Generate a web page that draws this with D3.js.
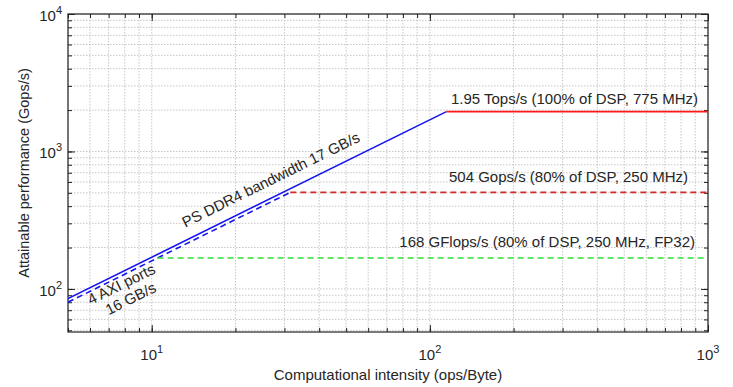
<!DOCTYPE html>
<html><head><meta charset="utf-8">
<script src="https://cdn.jsdelivr.net/npm/d3@7"></script>
<style>body{margin:0;background:#fff}text{font-family:"Liberation Sans",Arial,sans-serif;fill:#262626}</style>
</head><body><svg id="c" width="733" height="387"></svg>
<script>
const xDomain = [5, 1000];
const yDomain = [48.6, 10000];
const xTicks = [10, 100, 1000];
const yTicks = [100, 1000, 10000];
const bandwidths = [
  {name: "PS DDR4 bandwidth 17 GB/s", gbs: 17, dash: null},
  {name: "4 AXI ports 16 GB/s", gbs: 16, dash: "6,4"}
];
const peaks = [
  {label: "1.95 Tops/s (100% of DSP, 775 MHz)", value: 1950, bw: 17, color: "#ff1a1a", dash: null},
  {label: "504 Gops/s (80% of DSP, 250 MHz)", value: 504, bw: 16, color: "#d42a2a", dash: "6,4"},
  {label: "168 GFlops/s (80% of DSP, 250 MHz, FP32)", value: 168, bw: 16, color: "#33dd33", dash: "6,4"}
];

const svg = d3.select("#c");
const m = {l: 68, r: 25, t: 14, b: 55};
const W = 733, H = 387;
const FS = 15;
const x = d3.scaleLog().domain(xDomain).range([m.l, W - m.r]);
const y = d3.scaleLog().domain(yDomain).range([H - m.b, m.t]);

const xMinor = [];
for (let d = 1; d <= 100; d *= 10) for (let k = 1; k <= 9; k++) { const v = d * k; if (v >= xDomain[0] && v <= xDomain[1]) xMinor.push(v); }
xMinor.push(1000);
const yMinor = [];
for (let d = 10; d <= 1000; d *= 10) for (let k = 1; k <= 9; k++) { const v = d * k; if (v >= yDomain[0] && v <= yDomain[1]) yMinor.push(v); }
yMinor.push(10000);

const g = svg.append("g");
g.selectAll(".gx").data(xMinor).enter().append("line")
  .attr("x1", d => x(d)).attr("x2", d => x(d)).attr("y1", m.t).attr("y2", H - m.b)
  .attr("stroke", "#b8b8b8").attr("stroke-width", 0.8).attr("stroke-dasharray", "1.5,1.5");
g.selectAll(".gy").data(yMinor).enter().append("line")
  .attr("y1", d => y(d)).attr("y2", d => y(d)).attr("x1", m.l).attr("x2", W - m.r)
  .attr("stroke", "#b8b8b8").attr("stroke-width", 0.8).attr("stroke-dasharray", "1.5,1.5");

const tickFmt = () => "";
const ax = (axis, tr) => g.append("g").attr("transform", tr).call(axis).call(s => s.select(".domain").remove()).call(s => s.selectAll("line").attr("stroke", "#222"));
ax(d3.axisBottom(x).tickValues(xMinor).tickSize(-4).tickFormat(tickFmt), `translate(0,${H - m.b})`);
ax(d3.axisTop(x).tickValues(xMinor).tickSize(-4).tickFormat(tickFmt), `translate(0,${m.t})`);
ax(d3.axisLeft(y).tickValues(yMinor).tickSize(-4).tickFormat(tickFmt), `translate(${m.l},0)`);
ax(d3.axisRight(y).tickValues(yMinor).tickSize(-4).tickFormat(tickFmt), `translate(${W - m.r},0)`);
ax(d3.axisBottom(x).tickValues(xTicks).tickSize(-7).tickFormat(tickFmt), `translate(0,${H - m.b})`);
ax(d3.axisTop(x).tickValues(xTicks).tickSize(-7).tickFormat(tickFmt), `translate(0,${m.t})`);
ax(d3.axisLeft(y).tickValues(yTicks).tickSize(-7).tickFormat(tickFmt), `translate(${m.l},0)`);
ax(d3.axisRight(y).tickValues(yTicks).tickSize(-7).tickFormat(tickFmt), `translate(${W - m.r},0)`);

g.append("rect").attr("x", m.l).attr("y", m.t).attr("width", W - m.r - m.l).attr("height", H - m.b - m.t)
  .attr("fill", "none").attr("stroke", "#222").attr("stroke-width", 1.2);

xTicks.forEach(v => {
  const t = g.append("text").attr("x", x(v)).attr("y", H - m.b + 28).attr("text-anchor", "middle").attr("font-size", FS);
  t.append("tspan").text("10");
  t.append("tspan").attr("dy", -7).attr("font-size", 11).text(Math.round(Math.log10(v)));
});
yTicks.forEach(v => {
  const t = g.append("text").attr("x", m.l - 6).attr("y", y(v) + 7).attr("text-anchor", "end").attr("font-size", FS);
  t.append("tspan").text("10");
  t.append("tspan").attr("dy", -7).attr("font-size", 11).text(Math.round(Math.log10(v)));
});

g.append("text").attr("x", (m.l + W - m.r) / 2).attr("y", 380).attr("text-anchor", "middle").attr("font-size", FS)
  .text("Computational intensity (ops/Byte)");
g.append("text").attr("transform", `translate(29,${(m.t + H - m.b) / 2}) rotate(-90)`).attr("text-anchor", "middle").attr("font-size", 14.5)
  .text("Attainable performance (Gops/s)");

const line = d3.line().x(d => x(d[0])).y(d => y(d[1]));
svg.append("clipPath").attr("id", "clip").append("rect").attr("x", m.l).attr("y", m.t).attr("width", W - m.r - m.l).attr("height", H - m.b - m.t);
const lg = svg.append("g").attr("clip-path", "url(#clip)");
bandwidths.forEach(b => {
  const top = d3.max(peaks.filter(p => p.bw === b.gbs), p => p.value);
  const pts = [[xDomain[0], b.gbs * xDomain[0]], [top / b.gbs, top]];
  lg.append("path").attr("d", line(pts)).attr("fill", "none").attr("stroke", "#1515f0").attr("stroke-width", 1.6)
    .attr("stroke-dasharray", b.dash);
});
peaks.forEach(p => {
  const pts = [[p.value / p.bw, p.value], [xDomain[1], p.value]];
  lg.append("path").attr("d", line(pts)).attr("fill", "none").attr("stroke", p.color).attr("stroke-width", 1.6)
    .attr("stroke-dasharray", p.dash);
});

const peakLabelRight = [698, 688, 695];
const peakLabelOff = [8, 10, 11];
peaks.forEach((p, i) => {
  g.append("text").attr("x", peakLabelRight[i]).attr("y", y(p.value) - peakLabelOff[i]).attr("text-anchor", "end").attr("font-size", FS).text(p.label);
});

const ang = -Math.atan((y(10) - y(100)) / (x(100) - x(10))) * 180 / Math.PI;
g.append("text").attr("transform", `translate(${x(13.2)},${y(17 * 13.2) - 13}) rotate(${ang})`).attr("font-size", FS)
  .text("PS DDR4 bandwidth 17 GB/s");
g.append("text").attr("transform", `translate(${x(6.03)},${y(16 * 6.03) + 14}) rotate(${ang})`).attr("font-size", FS)
  .text("4 AXI ports");
g.append("text").attr("transform", `translate(${x(7.0)},${y(16 * 7.0) + 33}) rotate(${ang})`).attr("font-size", FS)
  .text("16 GB/s");
</script></body></html>
